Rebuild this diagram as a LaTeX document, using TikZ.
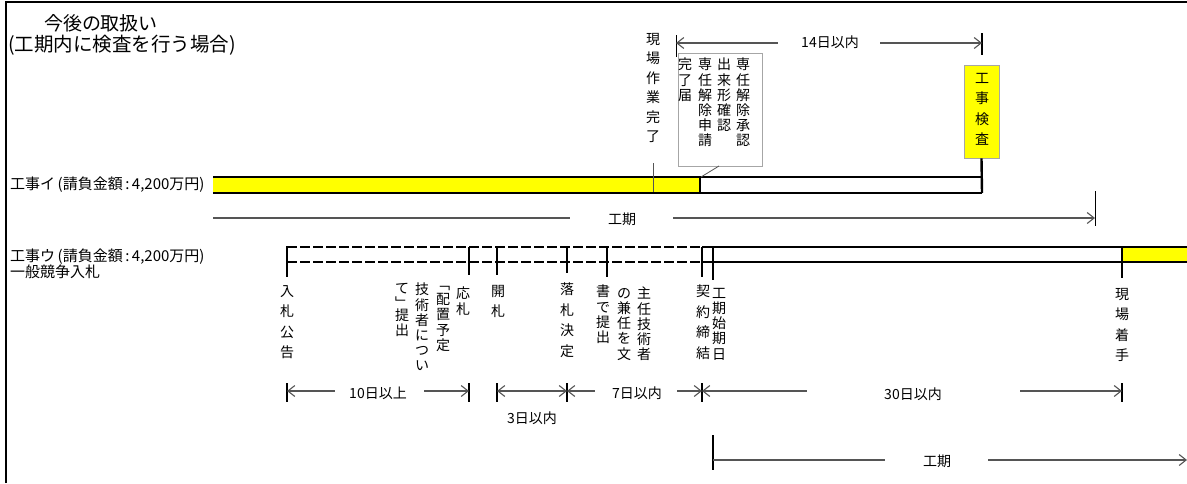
\documentclass[tikz,border=0pt]{standalone}
\usepackage{fontspec}
\setmainfont{Noto Sans CJK JP}
\usetikzlibrary{arrows.meta}
\definecolor{ln}{HTML}{555555}
\definecolor{bx}{HTML}{A6A6A6}
\definecolor{yel}{HTML}{FFFF00}
\begin{document}
\begin{tikzpicture}[x=1pt,y=-1pt,
  >={Straight Barb[length=7pt,width=11pt]},
  frame/.style={line width=2.6pt,black},
  barl/.style={line width=2.4pt,black},
  dashl/.style={line width=2pt,black,dash pattern=on 10pt off 3pt},
  tickl/.style={line width=2pt,black},
  thinl/.style={line width=0.9pt,black},
  dim/.style={line width=1.1pt,ln},
  lab/.style={font=\fontsize{14}{16}\selectfont,inner sep=0pt},
  rowlab/.style={font=\fontsize{15}{16}\selectfont,inner sep=0pt,anchor=west},
  vt/.style={font=\fontsize{14}{20.5}\selectfont,align=center,anchor=north,inner sep=0pt},
  vtb/.style={font=\fontsize{14}{19.5}\selectfont,align=center,anchor=north,inner sep=0pt},
  vs/.style={font=\fontsize{14}{15.2}\selectfont,align=center,anchor=north,inner sep=0pt},
]
\useasboundingbox (0,0) rectangle (1187,483);
% frame
\draw[frame] (6,483) -- (6,2) -- (1187,2);
% title
\node[font=\fontsize{19}{22}\selectfont,inner sep=0pt] (title) at (101,23.5) {今後の取扱い};
\node[font=\fontsize{19.5}{22}\selectfont,inner sep=0pt,anchor=west] (subtitle) at (8,45) {(工期内に検査を行う場合)};

% ---------- row 1 ----------
\node[rowlab] (r1) at (10,185) {工事イ\,(請負金額\,:\,4,200万円)};
\fill[yel] (213,177) rectangle (700,193);
\draw[barl] (213,177) -- (982,177);
\draw[barl] (213,193) -- (982,193);
\draw[barl] (700,177) -- (700,193);
% inspection box
\node[draw=bx,fill=yel,line width=0.8pt,minimum width=35pt,minimum height=93pt,inner sep=0pt] (insp) at (981.5,111.5) {};
\node[vt] (insptxt) at (982,73) {工\\事\\検\\査};
\draw[barl] (insp.south) -- (982,193);
\draw[barl] (982,33) -- (982,55);
% site work completion
\node[vtb] (genba) at (653,33) {現\\場\\作\\業\\完\\了};
\draw[line width=0.9pt,ln] (653,163) -- (653,192);
% callout
\node[draw=bx,fill=white,line width=0.8pt,minimum width=84pt,minimum height=113pt,inner sep=0pt] (call) at (720,109.5) {};
\coordinate (callp) at (719,166);
\coordinate (barp) at (701,177);
\draw[line width=0.8pt,ln] (callp) -- (barp);
\node[vs] (c1) at (743,58) {専\\任\\解\\除\\承\\認};
\node[vs] (c2) at (724,58) {出\\来\\形\\確\\認};
\node[vs] (c3) at (705,58) {専\\任\\解\\除\\申\\請};
\node[vs] (c4) at (685,58) {完\\了\\届};
% 14 days
\draw[thinl] (676,35) -- (676,57);
\coordinate (k1) at (676,43);
\coordinate (k2) at (982,43);
\coordinate (k1g) at (778,43);
\coordinate (k2g) at (880,43);
\node[lab] (l14) at (830,42) {14日以内};
\draw[dim,<-] (k1) -- (k1g);
\draw[dim,->] (k2g) -- (k2);
% period row 1
\coordinate (p1a) at (213,218);
\coordinate (p1ag) at (570,218);
\coordinate (p1bg) at (673,218);
\coordinate (p1b) at (1095,218);
\node[lab] (lp1) at (622,219) {工期};
\draw[dim] (p1a) -- (p1ag);
\draw[dim,->] (p1bg) -- (p1b);
\draw[thinl] (1095,191) -- (1095,226);

% ---------- row 2 ----------
\node[rowlab] (r2a) at (10,257) {工事ウ\,(請負金額\,:\,4,200万円)};
\node[rowlab] (r2b) at (10,272) {一般競争入札};
\fill[yel] (1122,247) rectangle (1187,262);
\draw[dashl] (287,247) -- (702,247);
\draw[dashl] (287,262) -- (702,262);
\draw[barl] (702,247) -- (1187,247);
\draw[barl] (702,262) -- (1187,262);
\draw[tickl] (287,246) -- (287,277);
\draw[tickl] (469,247) -- (469,275);
\draw[tickl] (497,247) -- (497,275);
\draw[tickl] (567,247) -- (567,273);
\draw[line width=1.5pt] (607,247) -- (607,277);
\draw[tickl] (702,247) -- (702,277);
\draw[tickl] (713,247) -- (713,280);
\draw[tickl] (1122,247) -- (1122,278);
% labels
\node[vt] (e1) at (287,285) {入\\札\\公\\告};
\node[vs] (e2a) at (463,287) {応\\札};
\node[vs] (e2b) at (443,286) {﹁\\配\\置\\予\\定};
\node[vs] (e2c) at (422,283) {技\\術\\者\\に\\つ\\い};
\node[vs] (e2d) at (402,283) {て\\﹂\\[-3pt]提\\出};
\node[vt] (e3) at (498,285) {開\\札};
\node[vt] (e4) at (567,283) {落\\札\\決\\定};
\node[vs] (e5a) at (644,287) {主\\任\\技\\術\\者};
\node[vs] (e5b) at (624,288) {の\\兼\\任\\を\\文};
\node[vs] (e5c) at (603,285) {書\\で\\提\\出};
\node[vt] (e6) at (703,285) {契\\約\\締\\結};
\node[vs] (e7) at (719,288) {工\\期\\始\\期\\日};
\node[vt] (e8) at (1122,288) {現\\場\\着\\手};

% dimension row
\foreach \x in {287,469,497,567,702,1122} \draw[tickl] (\x,383) -- (\x,402);
\coordinate (d287) at (287,391);
\coordinate (d469) at (469,391);
\coordinate (d497) at (497,391);
\coordinate (d567) at (567,391);
\coordinate (d702) at (702,391);
\coordinate (d1122) at (1122,391);
% 10 days
\coordinate (g10a) at (335,391);
\coordinate (g10b) at (424,391);
\node[lab] (l10) at (378,393) {10日以上};
\draw[dim,<-] (d287) -- (g10a);
\draw[dim,->] (g10b) -- (d469);
% 3 days
\draw[dim,<->] (d497) -- (d567);
\node[lab] (l3) at (532,418) {3日以内};
% 7 days
\coordinate (g7a) at (595,391);
\coordinate (g7b) at (677,391);
\node[lab] (l7) at (637,393) {7日以内};
\draw[dim,<-] (d567) -- (g7a);
\draw[dim,->] (g7b) -- (d702);
% 30 days
\coordinate (g30a) at (807,391);
\coordinate (g30b) at (1020,391);
\node[lab] (l30) at (913,394) {30日以内};
\draw[dim,<-] (d702) -- (g30a);
\draw[dim,->] (g30b) -- (d1122);
% period row 2
\draw[tickl] (713,435) -- (713,470);
\coordinate (p2a) at (713,460);
\coordinate (p2ag) at (885,460);
\coordinate (p2bg) at (988,460);
\coordinate (p2b) at (1187,460);
\node[lab] (lp2) at (937,461) {工期};
\draw[dim] (p2a) -- (p2ag);
\draw[dim,->] (p2bg) -- (p2b);
\end{tikzpicture}
\end{document}
